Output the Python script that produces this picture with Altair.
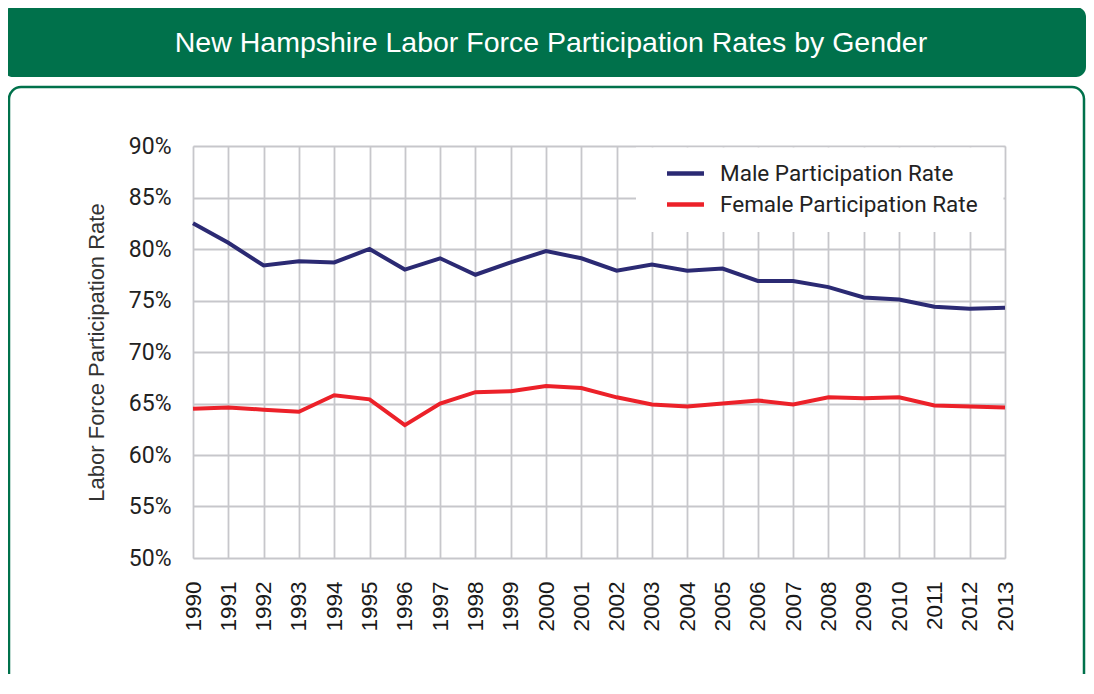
import altair as alt
import pandas as pd

# ---- data ----
years = list(range(1990, 2014))
male_rate = [82.5, 80.6, 78.4, 78.8, 78.7, 80.0, 78.0, 79.1, 77.5, 78.7, 79.8, 79.1,
             77.9, 78.5, 77.9, 78.1, 76.9, 76.9, 76.3, 75.3, 75.1, 74.4, 74.2, 74.3]
female_rate = [64.5, 64.6, 64.4, 64.2, 65.8, 65.4, 62.9, 65.0, 66.1, 66.2, 66.7, 66.5,
               65.6, 64.9, 64.7, 65.0, 65.3, 64.9, 65.6, 65.5, 65.6, 64.8, 64.7, 64.6]
series_names = ["Male Participation Rate", "Female Participation Rate"]
series_colors = ["#2b2a73", "#ec2129"]
y_ticks = [0.50, 0.55, 0.60, 0.65, 0.70, 0.75, 0.80, 0.85, 0.90]
title_text = "New Hampshire Labor Force Participation Rates by Gender"
y_title = "Labor Force Participation Rate"

rows = []
for name, vals in zip(series_names, [male_rate, female_rate]):
    for yr, v in zip(years, vals):
        rows.append({"Year": yr, "Rate": v / 100.0, "Series": name})
df = pd.DataFrame(rows)

GREEN = "#00714b"
GRID = "#c7c7cb"
W, H = 812, 412

one = alt.Data(values=[{"k": 1}])

# decorations (pixel positions relative to the plot area)
banner = alt.Chart(one).mark_rect(color=GREEN, cornerRadius=10).encode(
    x=alt.value(-190), x2=alt.value(893), y=alt.value(-139), y2=alt.value(-69)
)
banner_text = alt.Chart(one).mark_text(
    text=title_text, color="white", font="Liberation Sans", fontSize=28.5,
    align="center", baseline="alphabetic"
).encode(x=alt.value(358), y=alt.value(-94))
box = alt.Chart(one).mark_rect(
    filled=False, stroke=GREEN, strokeWidth=2.5, cornerRadius=12
).encode(x=alt.value(-184), x2=alt.value(891), y=alt.value(-59), y2=alt.value(560))
legend_bg = alt.Chart(one).mark_rect(fill="white").encode(
    x=alt.value(443), x2=alt.value(810.5), y=alt.value(1.5), y2=alt.value(86)
)

lines = alt.Chart(df).mark_line(strokeWidth=4, clip=False).encode(
    x=alt.X("Year:Q",
            scale=alt.Scale(domain=[1990, 2013], nice=False, zero=False),
            axis=alt.Axis(values=years, format="d", title=None, labelAngle=270,
                          labelAlign="right", labelBaseline="middle",
                          labelPadding=23, ticks=False, tickSize=0, domain=False,
                          grid=True, gridColor=GRID, gridWidth=1.8,
                          labelFont="Liberation Sans", labelFontSize=22.5,
                          labelColor="#1a1a1a", labelOverlap=False, labelFlush=False)),
    y=alt.Y("Rate:Q",
            scale=alt.Scale(domain=[0.5, 0.9], nice=False, zero=False),
            axis=alt.Axis(values=y_ticks, format=".0%", title=y_title,
                          labelPadding=22, ticks=False, tickSize=0, domain=False,
                          grid=True, gridColor=GRID, gridWidth=1.8,
                          labelFont="Roboto", labelFontSize=23, labelColor="#222222",
                          labelBaseline="middle",
                          titleFont="Liberation Sans", titleFontSize=22,
                          titleFontWeight="normal", titleColor="#333333",
                          titleAngle=270, titleX=-97, titleY=206,
                          titleAlign="center", titleBaseline="middle")),
    color=alt.Color("Series:N",
                    scale=alt.Scale(domain=series_names, range=series_colors),
                    sort=series_names,
                    legend=alt.Legend(title=None, orient="none", legendX=481, legendY=16,
                                      symbolType="M-2,0H2", symbolSize=342,
                                      symbolStrokeWidth=4.5, labelOffset=23,
                                      labelFont="Roboto", labelFontSize=22.5,
                                      labelColor="#222222", rowPadding=8,
                                      padding=0, labelLimit=400)),
)

chart = alt.layer(box, banner, banner_text, legend_bg, lines).properties(
    width=W, height=H,
    autosize=alt.AutoSizeParams(type="none"),
    padding={"left": 185, "top": 138, "right": 81, "bottom": 116},
).configure_view(stroke=None).configure(background="white")

chart.save("out.html", embed_options={"renderer": "svg", "actions": False})
